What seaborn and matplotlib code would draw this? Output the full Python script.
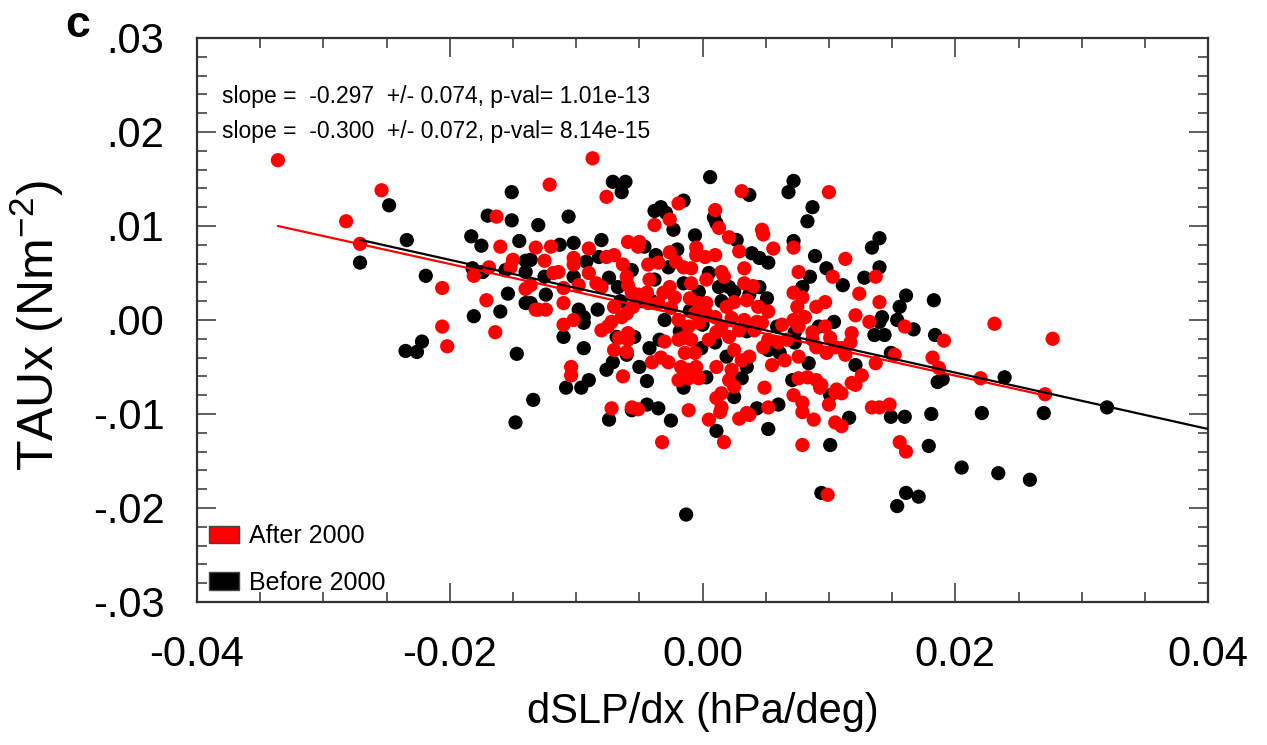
import matplotlib
matplotlib.use("Agg")
import matplotlib.pyplot as plt
import numpy as np
import pandas as pd
import seaborn as sns
from matplotlib.patches import Patch
from matplotlib.ticker import MultipleLocator

# points before 2000 (dSLP/dx, TAUx)
before_x = [
    -0.0248, -0.0151, -0.0170, -0.0151, -0.0130, -0.0271, -0.0234, -0.0219, -0.0235, -0.0226,
    -0.0222, -0.0183, -0.0175, -0.0145, -0.0140, -0.0156, -0.0140, -0.0182, -0.0174, -0.0154,
    -0.0140, -0.0160, -0.0181, -0.0147, -0.0134, -0.0148, -0.0071, -0.0061, -0.0064, -0.0106,
    0.0006, 0.0037, 0.0072, 0.0068, 0.0087, 0.0083, -0.0038, -0.0033, -0.0029, -0.0015,
    -0.0023, 0.0009, 0.0011, -0.0006, -0.0046, -0.0113, -0.0102, -0.0136, -0.0092, -0.0082,
    -0.0056, -0.0102, -0.0125, -0.0124, -0.0074, -0.0067, -0.0038, -0.0037, -0.0027, -0.0015,
    -0.0003, -0.0098, -0.0094, -0.0083, -0.0094, -0.0136, -0.0110, -0.0068, -0.0054, -0.0094,
    -0.0060, -0.0042, -0.0034, -0.0015, -0.0006, -0.0071, -0.0076, -0.0044, -0.0090, -0.0096,
    -0.0108, -0.0044, -0.0035, -0.0074, -0.0056, -0.0025, 0.0011, 0.0052, 0.0101, 0.0116,
    0.0094, -0.0013, 0.0027, 0.0072, 0.0039, 0.0045, 0.0052, 0.0089, 0.0098, 0.0111,
    0.0128, 0.0085, 0.0079, 0.0073, 0.0104, 0.0121, 0.0101, 0.0084, 0.0061, 0.0059,
    0.0073, 0.0019, 0.0035, 0.0031, 0.0003, 0.0025, 0.0043, 0.0037, 0.0045, 0.0051,
    0.0021, 0.0025, 0.0013, 0.0010, 0.0052, 0.0092, 0.0071, 0.0140, 0.0134, 0.0140,
    0.0161, 0.0156, 0.0183, 0.0142, 0.0154, 0.0140, 0.0167, 0.0136, 0.0144, 0.0184,
    0.0149, 0.0186, 0.0190, 0.0239, 0.0320, 0.0149, 0.0160, 0.0181, 0.0221, 0.0270,
    0.0179, 0.0205, 0.0234, 0.0259, 0.0161, 0.0171, 0.0154,
    -0.0010, 0.0000, -0.0030, -0.0048, 0.0015, 0.0035, -0.0001, -0.0018, -0.0040, -0.0065,
    0.0005, -0.0020, -0.0080, -0.0050, 0.0060,
]
before_y = [
    0.0122, 0.0136, 0.0111, 0.0106, 0.0101, 0.0061, 0.0085, 0.0047, -0.0033, -0.0034,
    -0.0023, 0.0089, 0.0079, 0.0084, 0.0063, 0.0053, 0.0051, 0.0055, 0.0051, 0.0028,
    0.0018, 0.0009, 0.0004, -0.0036, -0.0085, -0.0109, 0.0147, 0.0147, 0.0136, 0.0110,
    0.0152, 0.0133, 0.0148, 0.0136, 0.0120, 0.0105, 0.0116, 0.0120, 0.0114, 0.0127,
    0.0096, 0.0109, 0.0103, 0.0090, 0.0078, 0.0080, 0.0082, 0.0064, 0.0062, 0.0067,
    0.0053, 0.0046, 0.0046, 0.0027, 0.0045, 0.0035, 0.0043, 0.0069, 0.0056, 0.0039,
    0.0030, 0.0011, 0.0003, 0.0011, -0.0003, 0.0018, -0.0018, -0.0018, -0.0018, -0.0030,
    -0.0037, -0.0030, -0.0021, -0.0072, -0.0056, -0.0045, -0.0053, -0.0065, -0.0064, -0.0072,
    -0.0072, -0.0090, -0.0094, -0.0106, -0.0096, -0.0107, -0.0118, -0.0116, -0.0133, -0.0104,
    -0.0184, -0.0207, 0.0085, 0.0084, 0.0071, 0.0066, 0.0061, 0.0068, 0.0055, 0.0037,
    0.0045, 0.0046, 0.0035, -0.0013, -0.0002, -0.0048, -0.0080, -0.0046, -0.0035, -0.0007,
    -0.0024, -0.0039, -0.0050, -0.0062, -0.0061, -0.0082, -0.0094, 0.0027, 0.0035, 0.0023,
    0.0035, 0.0030, 0.0035, -0.0024, -0.0032, -0.0007, -0.0064, 0.0087, 0.0077, 0.0056,
    0.0026, 0.0014, 0.0021, 0.0003, 0.0000, -0.0002, -0.0010, -0.0016, -0.0016, -0.0016,
    -0.0035, -0.0066, -0.0063, -0.0061, -0.0093, -0.0103, -0.0103, -0.0100, -0.0099, -0.0099,
    -0.0134, -0.0157, -0.0163, -0.0170, -0.0184, -0.0188, -0.0198,
    0.0010, -0.0005, 0.0000, 0.0020, 0.0020, -0.0012, -0.0030, -0.0012, 0.0020, 0.0020,
    0.0050, 0.0075, 0.0085, -0.0050, -0.0090,
]

# points after 2000
after_x = [
    -0.0336, -0.0254, -0.0282, -0.0163, -0.0271, -0.0206, -0.0206, -0.0202, -0.0160, -0.0132,
    -0.0150, -0.0152, -0.0169, -0.0181, -0.0136, -0.0140, -0.0171, -0.0132, -0.0164, -0.0087,
    -0.0121, -0.0076, 0.0031, 0.0100, -0.0019, -0.0026, -0.0038, 0.0010, 0.0013, 0.0047,
    -0.0059, -0.0050, -0.0051, -0.0120, -0.0090, -0.0125, -0.0102, -0.0102, -0.0076, -0.0070,
    -0.0063, -0.0114, -0.0118, -0.0090, -0.0110, -0.0110, -0.0098, -0.0084, -0.0080, -0.0060,
    -0.0059, -0.0043, -0.0035, -0.0026, -0.0021, -0.0026, -0.0022, -0.0031, -0.0042, -0.0044,
    -0.0051, -0.0056, -0.0043, -0.0035, -0.0055, -0.0015, -0.0009, -0.0005, -0.0005, -0.0009,
    -0.0010, -0.0003, -0.0019, -0.0025, -0.0006, -0.0011, -0.0003, -0.0070, -0.0060, -0.0072,
    -0.0064, -0.0080, -0.0075, -0.0102, -0.0110, -0.0130, -0.0124, -0.0059, -0.0066, -0.0059,
    -0.0070, -0.0060, -0.0030, -0.0040, -0.0033, -0.0027, -0.0019, -0.0014, -0.0015, -0.0009,
    -0.0006, -0.0017, -0.0011, -0.0005, -0.0019, -0.0011, -0.0003, -0.0063, -0.0104, -0.0104,
    -0.0072, -0.0056, -0.0051, -0.0011, -0.0032, 0.0005, 0.0014, 0.0017, 0.0029, 0.0037,
    0.0079, 0.0088, 0.0079, 0.0105, 0.0110, 0.0099, 0.0021, 0.0048, 0.0056, 0.0072,
    0.0029, 0.0113, 0.0103, 0.0137, 0.0124, 0.0132, 0.0121, 0.0076, 0.0072, 0.0079,
    0.0075, 0.0072, 0.0081, 0.0090, 0.0097, 0.0087, 0.0097, 0.0087, 0.0090, 0.0098,
    0.0105, 0.0113, 0.0118, 0.0117, 0.0126, 0.0121, 0.0110, 0.0105, 0.0090, 0.0093,
    0.0083, 0.0076, 0.0072, 0.0079, 0.0065, 0.0055, 0.0076, 0.0063, 0.0052, 0.0041,
    0.0047, 0.0033, 0.0029, 0.0021, 0.0025, 0.0031, 0.0037, 0.0023, 0.0021, 0.0025,
    0.0011, 0.0015, 0.0011, 0.0049, 0.0052, 0.0035, 0.0015, 0.0044, 0.0052, 0.0035,
    0.0025, 0.0019, 0.0040, 0.0033, 0.0033, 0.0015, 0.0017, 0.0010, 0.0002, 0.0003,
    0.0010, 0.0003, 0.0011, 0.0005, 0.0023, 0.0015, 0.0003, 0.0043, 0.0060, 0.0048,
    0.0067, 0.0076, 0.0101, 0.0110, 0.0100, 0.0134, 0.0118, 0.0106, 0.0094, 0.0140,
    0.0160, 0.0191, 0.0231, 0.0277, 0.0152, 0.0137, 0.0182, 0.0187, 0.0220, 0.0271,
    0.0140, 0.0148, 0.0156, 0.0161,
]
after_y = [
    0.0170, 0.0138, 0.0105, 0.0110, 0.0081, 0.0034, -0.0007, -0.0028, 0.0078, 0.0077,
    0.0064, 0.0056, 0.0056, 0.0047, 0.0037, 0.0033, 0.0021, 0.0011, -0.0013, 0.0172,
    0.0144, 0.0131, 0.0137, 0.0136, 0.0124, 0.0107, 0.0101, 0.0117, 0.0098, 0.0096,
    0.0083, 0.0083, 0.0078, 0.0078, 0.0076, 0.0063, 0.0066, 0.0059, 0.0067, 0.0069,
    0.0059, 0.0051, 0.0050, 0.0050, 0.0034, 0.0018, 0.0037, 0.0039, 0.0035, 0.0046,
    0.0037, 0.0059, 0.0061, 0.0072, 0.0062, 0.0035, 0.0024, 0.0029, 0.0043, 0.0029,
    0.0027, 0.0029, 0.0018, 0.0018, 0.0014, 0.0056, 0.0055, 0.0077, 0.0069, 0.0039,
    0.0023, 0.0018, 0.0000, 0.0013, 0.0007, -0.0007, -0.0003, 0.0014, 0.0007, -0.0002,
    0.0003, -0.0011, -0.0007, 0.0000, -0.0005, 0.0011, 0.0011, -0.0014, -0.0019, -0.0021,
    -0.0032, -0.0034, -0.0023, -0.0045, -0.0040, -0.0045, -0.0021, -0.0035, -0.0019, -0.0021,
    -0.0035, -0.0050, -0.0053, -0.0050, -0.0064, -0.0062, -0.0062, -0.0060, -0.0050, -0.0059,
    -0.0094, -0.0093, -0.0095, -0.0096, -0.0130, -0.0106, -0.0098, -0.0130, -0.0105, -0.0101,
    -0.0098, -0.0106, -0.0133, -0.0109, -0.0113, -0.0186, 0.0088, 0.0091, 0.0076, 0.0077,
    0.0073, 0.0065, 0.0046, 0.0046, 0.0028, -0.0002, 0.0005, 0.0051, 0.0029, 0.0024,
    0.0014, 0.0000, 0.0003, 0.0014, 0.0019, -0.0013, -0.0007, -0.0021, -0.0029, -0.0035,
    -0.0029, -0.0037, -0.0014, -0.0024, -0.0059, -0.0069, -0.0078, -0.0077, -0.0064, -0.0072,
    -0.0061, -0.0062, -0.0080, -0.0088, -0.0043, -0.0048, -0.0039, -0.0005, -0.0021, -0.0011,
    -0.0003, 0.0000, -0.0011, -0.0018, -0.0032, -0.0043, -0.0039, -0.0053, -0.0064, -0.0071,
    -0.0050, -0.0078, -0.0083, -0.0072, -0.0093, -0.0099, -0.0093, 0.0014, 0.0009, 0.0021,
    0.0019, 0.0014, 0.0036, 0.0039, 0.0055, 0.0051, 0.0046, 0.0069, 0.0067, 0.0043,
    0.0003, 0.0007, -0.0013, -0.0021, 0.0002, -0.0007, 0.0018, -0.0002, -0.0024, -0.0029,
    -0.0021, -0.0007, -0.0019, -0.0030, -0.0090, -0.0093, -0.0067, -0.0074, -0.0069, 0.0019,
    -0.0007, -0.0022, -0.0004, -0.0020, -0.0037, -0.0046, -0.0040, -0.0051, -0.0062, -0.0079,
    -0.0093, -0.0090, -0.0130, -0.0140,
]

# regression lines (slope, intercept, x extent)
after_fit = (-0.297, 0.00002)
after_fit_x = [-0.0336, 0.0271]
before_fit = (-0.300, 0.0004)
before_fit_x = [-0.0271, 0.0403]

stats_lines = [
    "slope =  -0.297  +/- 0.074, p-val= 1.01e-13",
    "slope =  -0.300  +/- 0.072, p-val= 8.14e-15",
]
yticks = [-0.03, -0.02, -0.01, 0.0, 0.01, 0.02, 0.03]
ytick_labels = ["-.03", "-.02", "-.01", ".00", ".01", ".02", ".03"]
xticks = [-0.04, -0.02, 0.0, 0.02, 0.04]
xtick_labels = ["-0.04", "-0.02", "0.00", "0.02", "0.04"]

RED = "#FF0000"
BLACK = "#000000"

df = pd.concat(
    [
        pd.DataFrame({"dslp": before_x, "taux": before_y, "period": "Before 2000"}),
        pd.DataFrame({"dslp": after_x, "taux": after_y, "period": "After 2000"}),
    ],
    ignore_index=True,
)

sns.set_theme(style="ticks")
plt.rcParams["font.family"] = ["Liberation Sans", "DejaVu Sans"]
plt.rcParams.update({
    "text.color": "black",
    "axes.labelcolor": "black",
    "xtick.labelcolor": "black",
    "ytick.labelcolor": "black",
})

fig = plt.figure(figsize=(12.67, 7.45), dpi=100)
ax = fig.add_axes([0.1555, 0.192, 0.798, 0.757])

sns.scatterplot(
    data=df, x="dslp", y="taux", hue="period",
    palette={"Before 2000": BLACK, "After 2000": RED},
    s=105, linewidth=0, legend=False, ax=ax, zorder=2,
)

for (slope, icpt), xr, col in [(before_fit, before_fit_x, BLACK), (after_fit, after_fit_x, RED)]:
    xs = np.array(xr)
    ax.plot(xs, icpt + slope * xs, color=col, lw=1.6, zorder=3)

ax.set_xlim(-0.04, 0.04)
ax.set_ylim(-0.03, 0.03)
ax.set_xticks(xticks)
ax.set_xticklabels(xtick_labels)
ax.set_yticks(yticks)
ax.set_yticklabels(ytick_labels)
ax.xaxis.set_minor_locator(MultipleLocator(0.005))
ax.yaxis.set_minor_locator(MultipleLocator(0.002))
ax.tick_params(which="both", direction="in", top=True, right=True, width=1.1, color="#333333")
ax.tick_params(which="major", length=14)
ax.tick_params(which="minor", length=7)
ax.tick_params(axis="x", which="major", labelsize=30, pad=24)
ax.tick_params(axis="y", which="major", labelsize=30, pad=23.5)
for sp in ax.spines.values():
    sp.set_linewidth(1.6)
    sp.set_color("#333333")

ax.set_xlabel("dSLP/dx (hPa/deg)", fontsize=30)
ax.set_ylabel("TAUx (Nm$^{\\mathregular{-2}}$)", fontsize=36)
ax.xaxis.set_label_coords(0.5, -0.16)
ax.yaxis.set_label_coords(-0.13, 0.49)

for i, line in enumerate(stats_lines):
    ax.text(0.0247, 0.896 - 0.062 * i, line, transform=ax.transAxes,
            fontsize=16.5, va="center", ha="left")

handles = [
    Patch(facecolor=RED, edgecolor="#444444", label="After 2000"),
    Patch(facecolor=BLACK, edgecolor="#444444", label="Before 2000"),
]
ax.legend(handles=handles, loc="lower left", bbox_to_anchor=(0.009, 0.008),
          frameon=False, fontsize=18, handlelength=1.2, handleheight=0.7,
          handletextpad=0.4, labelspacing=0.9, borderpad=0.1, borderaxespad=0.0)

fig.text(0.061, 0.966, "c", fontsize=32, fontweight="bold", ha="center", va="center")

fig.savefig("out.png", dpi=100)
